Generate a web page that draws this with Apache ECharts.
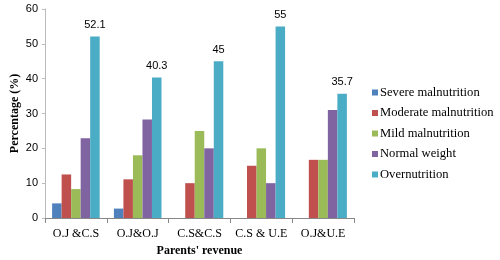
<!DOCTYPE html>
<html>
<head>
<meta charset="utf-8">
<script src="https://cdn.jsdelivr.net/npm/echarts@6/dist/echarts.min.js"></script>
<style>
  html, body { margin: 0; padding: 0; background: #fff; }
  #m { width: 500px; height: 260px; }
</style>
</head>
<body>
<div id="m"></div>
<script>
var categories = ['O.J &C.S', 'O.J&O.J', 'C.S&C.S', 'C.S & U.E', 'O.J&U.E'];
var seriesNames = ['Severe malnutrition', 'Moderate malnutrition', 'Mild malnutrition', 'Normal weight', 'Overnutrition'];
var severe = [4.2, 2.7, 0, 0, 0];
var moderate = [12.5, 11.1, 10, 15, 16.7];
var mild = [8.3, 18, 25, 20, 16.7];
var normal = [22.9, 28.3, 20, 10, 31];
var over = [52.1, 40.3, 45, 55, 35.7];
var colors = ['#4F81BD', '#C0504D', '#9BBB59', '#8064A2', '#4BACC6'];

var values = [severe, moderate, mild, normal, over];
var serif = 'Liberation Serif';
var sans = 'Liberation Sans';

var myChart = echarts.init(document.getElementById('m'));
var series = [];
for (var i = 0; i < values.length; i++) {
    series.push({
        name: seriesNames[i],
        type: 'bar',
        data: values[i],
        barGap: 0,
        barCategoryGap: '23%',
        itemStyle: { color: colors[i] },
        label: {
            show: i === 4,
            position: 'top',
            distance: 6,
            fontFamily: sans,
            fontSize: 11,
            color: '#000'
        }
    });
}

var option = {
    animation: false,
    color: colors,
    grid: { left: 45, right: 146, top: 9, bottom: 42, containLabel: false, outerBoundsMode: 'none' },
    legend: {
        orient: 'vertical',
        left: 367,
        top: 81,
        itemWidth: 6,
        itemHeight: 6,
        itemGap: 7.5,
        icon: 'rect',
        textStyle: { fontFamily: serif, fontSize: 12.6, color: '#000', padding: [0, 0, 0, -3] },
        data: seriesNames
    },
    xAxis: {
        type: 'category',
        data: categories,
        name: "Parents' revenue",
        nameLocation: 'middle',
        nameGap: 27,
        nameTextStyle: { fontFamily: serif, fontWeight: 'bold', fontSize: 12, color: '#000' },
        axisLine: { lineStyle: { color: '#888' } },
        axisTick: { show: true, length: 5, lineStyle: { color: '#888' } },
        axisLabel: { interval: 0, fontFamily: serif, fontSize: 12, color: '#000', margin: 10 }
    },
    yAxis: {
        type: 'value',
        min: 0,
        max: 60,
        interval: 10,
        name: 'Percentage (%)',
        nameLocation: 'middle',
        nameGap: 24,
        nameMoveOverlap: false,
        nameTextStyle: { fontFamily: serif, fontWeight: 'bold', fontSize: 12, color: '#000' },
        splitLine: { show: false },
        axisLine: { show: true, lineStyle: { color: '#bbb' } },
        axisTick: { show: true, length: 3, lineStyle: { color: '#bbb' } },
        axisLabel: { fontFamily: sans, fontSize: 11, color: '#000', margin: 7 }
    },
    series: series
};

myChart.setOption(option);
</script>
</body>
</html>
